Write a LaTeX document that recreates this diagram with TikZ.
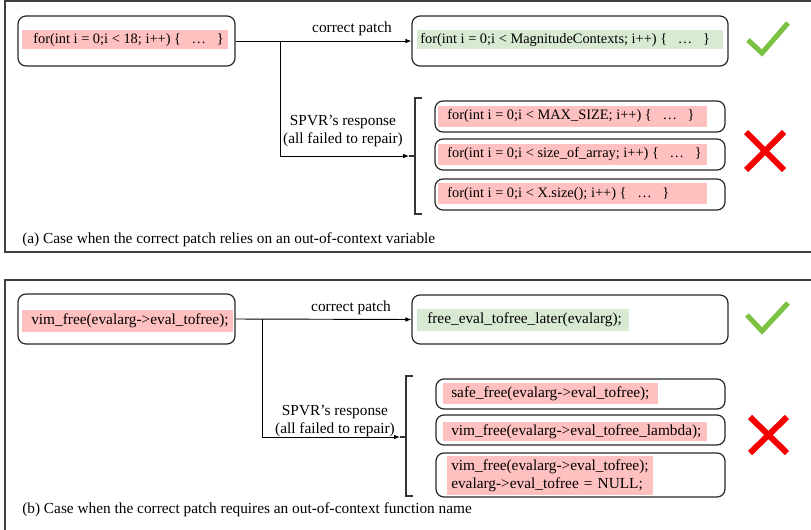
\documentclass[tikz,border=0pt]{standalone}
\usepackage{fontspec}
\setmainfont{Liberation Serif}
\usetikzlibrary{positioning,arrows.meta}
\definecolor{hlred}{RGB}{255,192,192}
\definecolor{hlgreen}{RGB}{217,234,211}
\definecolor{okgreen}{RGB}{124,194,66}
\definecolor{nored}{RGB}{245,0,0}
\newcommand{\loopbody}{\{\hspace{8pt}…\hspace{8pt}\}}

\begin{document}
\begin{tikzpicture}[x=0.75pt, y=-0.75pt,
	font=\fontsize{11.5}{13.5}\selectfont,
	box/.style={draw=black!85, line width=0.9pt, rounded corners=6pt},
	hl/.style={fill=#1, anchor=west, inner xsep=0pt, inner ysep=0pt, align=left},
	smallcode/.style={font=\fontsize{10.8}{13}\selectfont},
	frame/.style={draw=black!75, line width=1pt},
	conn/.style={line width=0.7pt, -{Latex[length=4.5pt,width=3.5pt]}},
	brace/.style={line width=0.8pt, draw=black!80},
	tick/.style={line width=3.8pt, okgreen},
	cross/.style={line width=4.5pt, nored}
	]
	\useasboundingbox (0,0) rectangle (811,529);
	\clip (0,0) rectangle (811,529);
	
	% (a) out-of-context variable
	\draw[frame] (5,1) rectangle (830,252);
	\node[box, minimum width=162.75pt, minimum height=37.5pt] (srcA) at (126.5,41) {};
	\node[hl=hlred, smallcode, minimum height=14.25pt] (srcAtxt) at (22,39.5)
		{\makebox[154.5pt][l]{\hspace*{8.25pt}for(int i = 0;i < 18; i++) \loopbody}};
	\node[box, minimum width=237pt, minimum height=37.5pt] (fixA) at (570,41) {};
	\node[hl=hlgreen, smallcode, minimum height=14.25pt] (fixAtxt) at (417,39.5)
		{\makebox[229.5pt][l]{\hspace*{2.25pt}for(int i = 0;i < MagnitudeContexts; i++) \loopbody}};
	\node[box, minimum width=217.5pt, minimum height=23.25pt] (wA1) at (580,116.5) {};
	\node[box, minimum width=217.5pt, minimum height=23.25pt] (wA2) at (580,154.5) {};
	\node[box, minimum width=217.5pt, minimum height=23.25pt] (wA3) at (580,194.5) {};
	\node[hl=hlred, smallcode, minimum height=15.75pt] (wA1txt) at (438,116)
		{\makebox[201.75pt][l]{\hspace*{6.75pt}for(int i = 0;i < MAX\_SIZE; i++) \loopbody}};
	\node[hl=hlred, smallcode, minimum height=15.75pt] (wA2txt) at (438,154)
		{\makebox[201.75pt][l]{\hspace*{6.75pt}for(int i = 0;i < size\_of\_array; i++) \loopbody}};
	\node[hl=hlred, smallcode, minimum height=15.75pt] (wA3txt) at (438,193.5)
		{\makebox[201.75pt][l]{\hspace*{6.75pt}for(int i = 0;i < X.size(); i++) \loopbody}};
	
	\coordinate (splitA) at (280,41);
	\coordinate (braceA) at (409,156);
	\draw[brace] (422,98) -- (415,98) -- (415,214) -- (422,214);
	\draw[brace] (braceA) -- (415,156);
	\draw[conn] (srcA.east) -- (fixA.west);
	\draw[conn] (splitA) |- (braceA);
	\node (patchA) at (352,29) {correct patch};
	\node[align=center] (respA) at (343,131) {SPVR’s response\\(all failed to repair)};
	
	\draw[tick] (748,40) -- (762,53) -- (788,23);
	\draw[cross] (746,132) -- (784,170) (784,132) -- (746,170);
	\node[anchor=west, inner sep=0pt] (capA) at (22,240)
		{(a) Case when the correct patch relies on an out-of-context variable};
	
	% (b) out-of-context function name
	\draw[frame] (5,280) rectangle (830,545);
	\node[box, minimum width=162.75pt, minimum height=37.5pt] (srcB) at (126.5,319) {};
	\node[hl=hlred, minimum height=16.5pt] (srcBtxt) at (22,321)
		{\makebox[158.25pt][l]{\hspace*{6.75pt}vim\_free(evalarg->eval\_tofree);}};
	\node[box, minimum width=237pt, minimum height=36.75pt] (fixB) at (570,319.5) {};
	\node[hl=hlgreen, minimum height=16.5pt] (fixBtxt) at (417,320)
		{\makebox[159pt][l]{\hspace*{7.5pt}free\_eval\_tofree\_later(evalarg);}};
	\node[box, minimum width=216.75pt, minimum height=22.5pt] (wB1) at (580.5,394) {};
	\node[box, minimum width=216.75pt, minimum height=22.5pt] (wB2) at (580.5,430) {};
	\node[box, minimum width=216.75pt, minimum height=33pt] (wB3) at (580.5,475) {};
	\node[hl=hlred, minimum height=15.75pt] (wB1txt) at (443,393.5)
		{\makebox[161.25pt][l]{\hspace*{6pt}safe\_free(evalarg->eval\_tofree);}};
	\node[hl=hlred, minimum height=14.25pt] (wB2txt) at (443,431.5)
		{\makebox[198pt][l]{\hspace*{6pt}vim\_free(evalarg->eval\_tofree\_lambda);}};
	\node[hl=hlred, text width=154.5pt, minimum height=29.25pt] (wB3txt) at (447,475.5)
		{\hspace*{3pt}vim\_free(evalarg->eval\_tofree);\\\hspace*{3pt}evalarg->eval\_tofree = NULL;};
	
	\coordinate (splitB) at (262,319);
	\coordinate (braceB) at (400,437);
	\draw[brace] (413,376) -- (406,376) -- (406,496) -- (413,496);
	\draw[brace] (braceB) -- (406,437);
	\draw[conn] (srcB.east) -- (fixB.west);
	\draw[conn] (splitB) |- (braceB);
	\node (patchB) at (351,308) {correct patch};
	\node[align=center] (respB) at (335,421) {SPVR’s response\\(all failed to repair)};
	
	\draw[tick] (747,315) -- (762,331) -- (788,303);
	\draw[cross] (750,417) -- (787,453) (787,417) -- (750,453);
	\node[anchor=west, inner sep=0pt] (capB) at (22,510)
		{(b) Case when the correct patch requires an out-of-context function name};
\end{tikzpicture}
\end{document}
